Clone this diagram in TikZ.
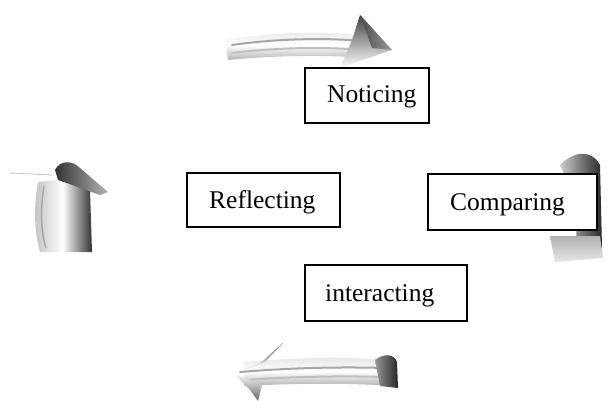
\documentclass[tikz,border=0pt]{standalone}
\usepackage{fontspec}
\setmainfont{Liberation Serif}
\usetikzlibrary{shadings}
\begin{document}
\begin{tikzpicture}[x=1pt,y=-1pt,
  box/.style={draw=black,line width=1.9pt,fill=white},
  lbl/.style={font=\fontsize{25.5}{30}\selectfont,inner sep=0pt,anchor=base west},
  stripe/.style={line width=2pt,draw=black!35,line cap=round}]
\useasboundingbox (0,0) rectangle (616,401);
% ---- top arrow (pointing right)
\shade[top color=black!8,bottom color=black!30,middle color=white] (225,40) .. controls (280,31) and (330,31) .. (366,36) -- (366,58) .. controls (330,55) and (280,55) .. (228,60) -- cycle;
\draw[stripe] (232,45) .. controls (280,38) and (330,38) .. (362,41);
\draw[stripe,draw=black!25] (232,53) .. controls (280,47) and (330,47) .. (362,50);
\shade[top color=black!75,bottom color=white] (360,15) -- (392,50) -- (340,68) -- (352,40) -- cycle;
\shade[left color=black!70,right color=black!40] (360,15) -- (392,50) -- (372,48) -- cycle;
% ---- bottom arrow (pointing left)
\shade[top color=black!10,bottom color=black!30,middle color=white] (244,362) .. controls (300,357) and (350,357) .. (395,360) -- (395,386) .. controls (350,383) and (300,383) .. (244,386) -- cycle;
\draw[stripe] (240,372) .. controls (300,367) and (350,367) .. (385,368);
\draw[stripe,draw=black!25] (244,380) .. controls (300,376) and (350,376) .. (385,377);
\shade[left color=black!40,right color=black!85] (375,360) .. controls (385,352) and (395,355) .. (397,362) -- (398,388) -- (380,386) -- cycle;
\shade[top color=black!60,bottom color=white] (283,343) -- (265,362) -- (233,373) -- (258,365) -- cycle;
\shade[top color=white,bottom color=black!60] (233,373) -- (262,385) -- (258,401) -- (250,390) -- cycle;
% ---- left arrow (pointing up)
\shade[left color=black!25,right color=black!80,middle color=white] (38,182) .. controls (33,210) and (35,235) .. (40,252) -- (92,252) -- (90,190) -- (55,180) -- cycle;
\draw[line width=1.5pt,draw=black!35] (44,186) .. controls (40,210) and (41,232) .. (46,248);
\shade[left color=black!80,right color=black!30] (55,170) .. controls (60,160) and (72,160) .. (80,168) -- (108,192) -- (100,195) -- (58,180) -- cycle;
\draw[black!25,line width=0.8pt] (10,173) -- (52,175);
% ---- right arrow (behind Comparing)
\shade[left color=black!20,right color=black!85] (560,165) .. controls (575,150) and (592,150) .. (600,165) -- (602,248) -- (575,250) .. controls (580,215) and (570,185) .. (560,165) -- cycle;
\shade[top color=black!30,bottom color=black!10] (550,236) -- (600,236) -- (603,258) -- (555,262) -- cycle;
% ---- boxes
\draw[box] (305,68) rectangle (429,123);
\node[lbl] (noticing) at (327,103) {Noticing};
\draw[box] (187,173) rectangle (340,227);
\node[lbl] (reflecting) at (209,208) {Reflecting};
\draw[box] (428,174) rectangle (597,230);
\node[lbl] (comparing) at (450,210) {Comparing};
\draw[box] (305,265) rectangle (467,321);
\node[lbl] (interacting) at (325,301) {interacting};
\end{tikzpicture}
\end{document}
